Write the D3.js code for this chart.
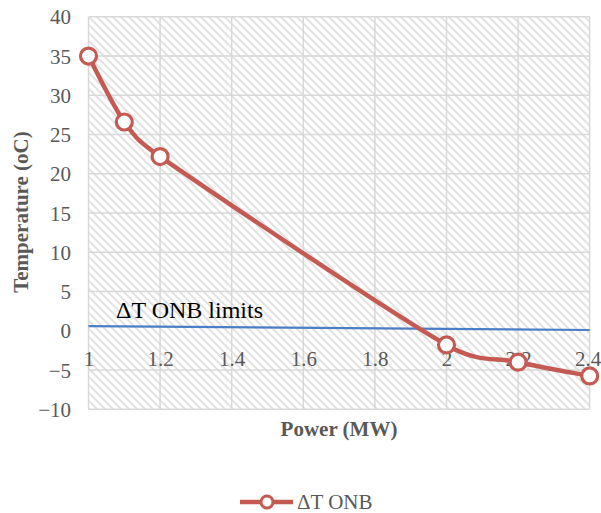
<!DOCTYPE html>
<html>
<head>
<meta charset="utf-8">
<script src="https://cdn.jsdelivr.net/npm/d3@7"></script>
<style>
  html, body { margin: 0; padding: 0; background: #fff; }
  svg { display: block; }
</style>
</head>
<body>
<svg id="chart" width="601" height="513"></svg>
<script>
// ---- data ----
const powerMW = [1, 1.1, 1.2, 2, 2.2, 2.4];
const deltaT_ONB = [35, 26.6, 22.2, -1.8, -4.0, -5.75];
const limitPower = [1, 2.4];
const limitValues = [0.6, 0.1];
const xTicks = [1, 1.2, 1.4, 1.6, 1.8, 2, 2.2, 2.4];
const yTicks = [-10, -5, 0, 5, 10, 15, 20, 25, 30, 35, 40];
const seriesName = "ΔT ONB";
const limitLabel = "ΔT ONB limits";
const xTitle = "Power (MW)";
const yTitle = "Temperature (oC)";

const svg = d3.select("#chart");
const font = "'Liberation Serif', 'Times New Roman', serif";
const gray = "#595959";
const red = "#C55A52";
const blue = "#4A7EC5";

const plot = { left: 88.5, right: 589.7, top: 16.8, bottom: 409.3 };
const x = d3.scaleLinear().domain([1, 2.4]).range([plot.left, plot.right]);
const y = d3.scaleLinear().domain([-10, 40]).range([plot.bottom, plot.top]);

// Excel-style smoothed line (Bezier, tension 1/6, handle capped at half segment)
function excelSmooth(pts) {
  const p = d3.path();
  const n = pts.length;
  p.moveTo(pts[0][0], pts[0][1]);
  for (let i = 0; i < n - 1; i++) {
    const p0 = pts[Math.max(i - 1, 0)], p1 = pts[i], p2 = pts[i + 1], p3 = pts[Math.min(i + 2, n - 1)];
    const seg = Math.hypot(p2[0] - p1[0], p2[1] - p1[1]);
    function handle(a, b) {
      let dx = (b[0] - a[0]) / 6, dy = (b[1] - a[1]) / 6;
      const len = Math.hypot(dx, dy);
      if (len > seg / 2 && len > 0) { const f = (seg / 2) / len; dx *= f; dy *= f; }
      return [dx, dy];
    }
    const h1 = handle(p0, p2), h2 = handle(p1, p3);
    p.bezierCurveTo(p1[0] + h1[0], p1[1] + h1[1], p2[0] - h2[0], p2[1] - h2[1], p2[0], p2[1]);
  }
  return p.toString();
}

// hatch pattern
const defs = svg.append("defs");
const pat = defs.append("pattern")
  .attr("id", "hatch").attr("patternUnits", "userSpaceOnUse")
  .attr("width", 8).attr("height", 8);
pat.append("rect").attr("width", 8).attr("height", 8).attr("fill", "#fff");
pat.append("path").attr("d", "M-2,-2 L10,10 M-2,6 L2,10 M6,-2 L10,2")
  .attr("stroke", "#e3e3e3").attr("stroke-width", 2);

svg.append("rect")
  .attr("x", plot.left).attr("y", plot.top)
  .attr("width", plot.right - plot.left).attr("height", plot.bottom - plot.top)
  .attr("fill", "url(#hatch)");

// gridlines
const grid = svg.append("g").attr("stroke", "#d9d9d9").attr("stroke-width", 1.5);
grid.selectAll("line.h").data(yTicks.filter(d => d !== 0)).join("line")
  .attr("x1", plot.left).attr("x2", plot.right)
  .attr("y1", d => y(d)).attr("y2", d => y(d));
grid.selectAll("line.v").data(xTicks).join("line")
  .attr("y1", plot.top).attr("y2", plot.bottom)
  .attr("x1", d => x(d)).attr("x2", d => x(d));

// y axis labels
const yAxis = d3.axisLeft(y).tickValues(yTicks).tickSize(0).tickPadding(0);
const gy = svg.append("g").attr("transform", `translate(${71},0)`).call(yAxis);
gy.select(".domain").remove();
gy.selectAll("text").attr("font-family", font).attr("font-size", 21)
  .attr("fill", gray).attr("dy", "0.34em");

// x axis labels at y=0
const xAxis = d3.axisBottom(x).tickValues(xTicks).tickSize(0).tickPadding(0).tickFormat(d3.format("~g"));
const gx = svg.append("g").attr("transform", `translate(0,${y(0)})`).call(xAxis);
gx.select(".domain").remove();
gx.selectAll("text").attr("font-family", font).attr("font-size", 21)
  .attr("fill", gray).attr("dy", null).attr("y", 35)
  .attr("dx", (d, i) => i === xTicks.length - 1 ? -2 : 0);

// limit line
const limitData = limitPower.map((p, i) => [p, limitValues[i]]);
svg.append("path").datum(limitData)
  .attr("d", d3.line().x(d => x(d[0])).y(d => y(d[1])))
  .attr("fill", "none").attr("stroke", blue).attr("stroke-width", 2.2);

svg.append("text").attr("x", 116).attr("y", 318)
  .attr("font-family", font).attr("font-size", 24).attr("fill", "#000")
  .text(limitLabel);

// main series
const data = powerMW.map((p, i) => [p, deltaT_ONB[i]]);
svg.append("path").datum(data)
  .attr("d", d => excelSmooth(d.map(v => [x(v[0]), y(v[1])])))
  .attr("fill", "none").attr("stroke", red).attr("stroke-width", 4.5)
  .attr("stroke-linejoin", "round");
svg.selectAll("circle.pt").data(data).join("circle")
  .attr("class", "pt")
  .attr("cx", d => x(d[0])).attr("cy", d => y(d[1])).attr("r", 8)
  .attr("fill", "#fff").attr("stroke", red).attr("stroke-width", 3.2);

// axis titles
svg.append("text").attr("x", 339).attr("y", 436).attr("text-anchor", "middle")
  .attr("font-family", font).attr("font-size", 21).attr("font-weight", "bold")
  .attr("fill", gray).text(xTitle);
svg.append("text").attr("transform", "translate(28,212) rotate(-90)")
  .attr("text-anchor", "middle")
  .attr("font-family", font).attr("font-size", 21).attr("font-weight", "bold")
  .attr("fill", gray).text(yTitle);

// legend
const lg = svg.append("g");
lg.append("line").attr("x1", 240).attr("x2", 293).attr("y1", 502).attr("y2", 502)
  .attr("stroke", red).attr("stroke-width", 4.5);
lg.append("circle").attr("cx", 267).attr("cy", 502).attr("r", 6)
  .attr("fill", "#fff").attr("stroke", red).attr("stroke-width", 3);
lg.append("text").attr("x", 297).attr("y", 509)
  .attr("font-family", font).attr("font-size", 21).attr("fill", gray).text(seriesName);
</script>
</body>
</html>
